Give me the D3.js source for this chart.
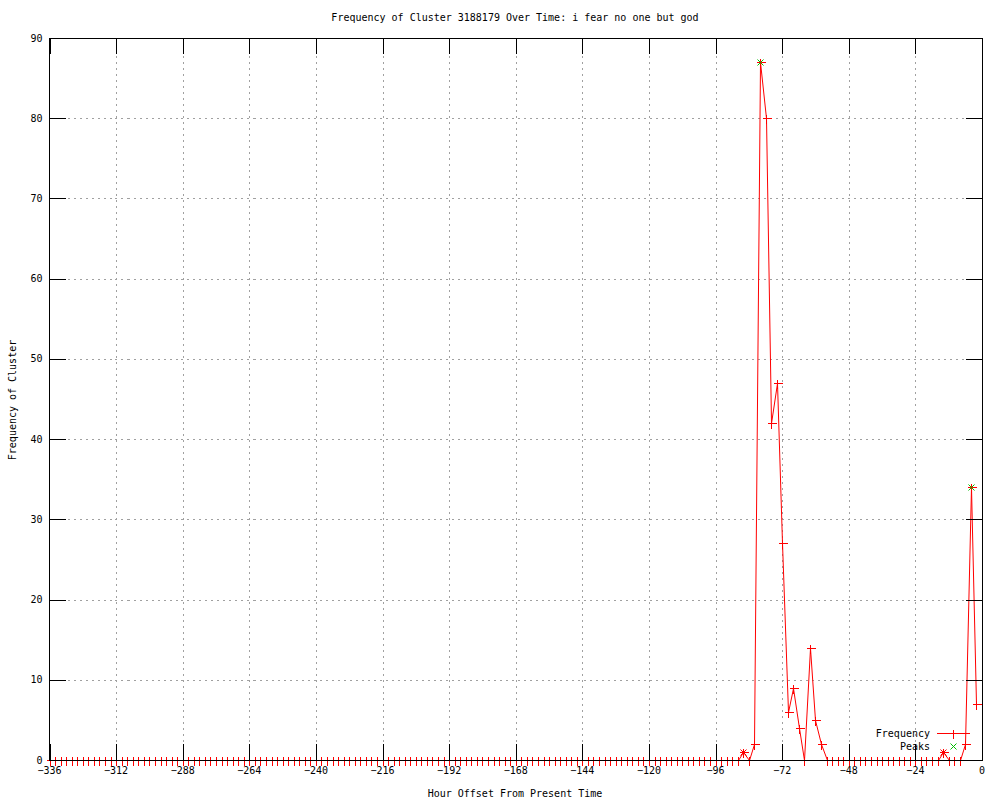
<!DOCTYPE html>
<html>
<head>
    <title>Frequency of Cluster</title>
    <script src="https://d3js.org/d3.v7.min.js"></script>
    <style>
        body { margin: 0; background: #fff; }
        text { font-family: "DejaVu Sans Mono", monospace; font-size: 10px; fill: #000; }
    </style>
</head>
<body>
<script>
// one value every 2 hours, from -336 to -2
const hours = d3.range(-336, 0, 2);
const frequency = [
    0,0,0,0,0,0,0,0,0,0, 0,0,0,0,0,0,0,0,0,0,
    0,0,0,0,0,0,0,0,0,0, 0,0,0,0,0,0,0,0,0,0,
    0,0,0,0,0,0,0,0,0,0, 0,0,0,0,0,0,0,0,0,0,
    0,0,0,0,0,0,0,0,0,0, 0,0,0,0,0,0,0,0,0,0,
    0,0,0,0,0,0,0,0,0,0, 0,0,0,0,0,0,0,0,0,0,
    0,0,0,0,0,0,0,0,0,0, 0,0,0,0,0,0,0,0,0,0,
    0,0,0,0,0,
    1,0,2,87,80,42,47,27,6,9,4,0,14,5,2,
    0,0,0,0,0,0,0,0,0,0, 0,0,0,0,0,0,0,0,0,0, 0,
    1,0,0,0,2,34,7
];
const peaks = [[-80, 87], [-4, 34]];
const minorPeaks = [[-86, 1], [-14, 1]];
const xTicks = d3.range(-336, 1, 24);
const yTicks = d3.range(0, 91, 10);

const margin = { top: 38, right: 18, bottom: 40, left: 49.5 };
const width = 1000, height = 800;

const svg = d3.select('body')
    .append('svg')
    .attr('width', width)
    .attr('height', height);

const x = d3.scaleLinear().domain([-336, 0]).range([margin.left, width - margin.right]);
const y = d3.scaleLinear().domain([0, 90]).range([height - margin.bottom, margin.top]);

const x0 = x.range()[0], x1 = x.range()[1];
const y0 = y.range()[0], y1 = y.range()[1];
const px = v => Math.round(x(v)) + 0.5;
const py = v => Math.round(y(v)) + 0.5;

// grid
const grid = svg.append('g')
    .attr('stroke', '#a0a0a0')
    .attr('stroke-dasharray', '2,4')
    .attr('shape-rendering', 'crispEdges');
grid.selectAll('.gx').data(xTicks.slice(1, -1)).enter().append('line')
    .attr('x1', d => px(d)).attr('x2', d => px(d))
    .attr('y1', y1).attr('y2', y0);
grid.selectAll('.gy').data(yTicks.slice(1, -1)).enter().append('line')
    .attr('x1', x0).attr('x2', x1)
    .attr('y1', d => py(d)).attr('y2', d => py(d));

// data line
const pts = hours.map((h, i) => [h, frequency[i]]);
svg.append('path')
    .datum(pts)
    .attr('fill', 'none')
    .attr('stroke', '#ff0000')
    .attr('stroke-width', 1)
    .attr('d', d3.line().x(d => px(d[0])).y(d => py(d[1])));

function plus(g, cx, cy, color) {
    g.append('path')
        .attr('d', `M${cx - 4},${cy}H${cx + 5}M${cx},${cy - 4}V${cy + 5}`)
        .attr('stroke', color).attr('fill', 'none')
        .attr('shape-rendering', 'crispEdges');
}
function cross(g, cx, cy, color) {
    g.append('path')
        .attr('d', `M${cx - 3},${cy - 3}L${cx + 3},${cy + 3}M${cx - 3},${cy + 3}L${cx + 3},${cy - 3}`)
        .attr('stroke', color).attr('fill', 'none');
}

const marks = svg.append('g');
pts.forEach(d => plus(marks, px(d[0]), py(d[1]), '#ff0000'));
minorPeaks.forEach(d => cross(marks, px(d[0]), py(d[1]), '#ff0000'));
peaks.forEach(d => cross(marks, px(d[0]), py(d[1]), '#00c000'));

// border and ticks
const axes = svg.append('g').attr('stroke', '#000').attr('shape-rendering', 'crispEdges');
axes.append('rect')
    .attr('x', x0).attr('y', y1 + 0.5)
    .attr('width', x1 - x0).attr('height', y0 - y1)
    .attr('fill', 'none');
const tl = 16;
xTicks.forEach(t => {
    axes.append('line').attr('x1', px(t)).attr('x2', px(t)).attr('y1', y0).attr('y2', y0 - tl);
    axes.append('line').attr('x1', px(t)).attr('x2', px(t)).attr('y1', y1).attr('y2', y1 + tl);
});
yTicks.forEach(t => {
    axes.append('line').attr('x1', x0).attr('x2', x0 + tl).attr('y1', py(t)).attr('y2', py(t));
    axes.append('line').attr('x1', x1).attr('x2', x1 - tl).attr('y1', py(t)).attr('y2', py(t));
});

// tick labels
svg.selectAll('.xl').data(xTicks).enter().append('text')
    .attr('x', d => x(d)).attr('y', y0 + 14)
    .attr('text-anchor', 'middle')
    .text(d => d === 0 ? '0' : '\u2212' + Math.abs(d));
svg.selectAll('.yl').data(yTicks).enter().append('text')
    .attr('x', x0 - 7).attr('y', d => y(d) + 3.5)
    .attr('text-anchor', 'end')
    .text(d => d);

// titles
svg.append('text')
    .attr('x', 515).attr('y', 21)
    .attr('text-anchor', 'middle')
    .text('Frequency of Cluster 3188179 Over Time: i fear no one but god');
svg.append('text')
    .attr('x', 515).attr('y', 797)
    .attr('text-anchor', 'middle')
    .text('Hour Offset From Present Time');
svg.append('text')
    .attr('transform', 'translate(16,400) rotate(-90)')
    .attr('text-anchor', 'middle')
    .text('Frequency of Cluster');

// legend
const leg = svg.append('g');
leg.append('text').attr('x', 930).attr('y', 737).attr('text-anchor', 'end').text('Frequency');
leg.append('line').attr('x1', 937).attr('x2', 970).attr('y1', 733.5).attr('y2', 733.5)
    .attr('stroke', '#ff0000').attr('shape-rendering', 'crispEdges');
plus(leg, 953.5, 733.5, '#ff0000');
leg.append('text').attr('x', 930).attr('y', 750).attr('text-anchor', 'end').text('Peaks');
cross(leg, 953.5, 746.5, '#00c000');
</script>
</body>
</html>
